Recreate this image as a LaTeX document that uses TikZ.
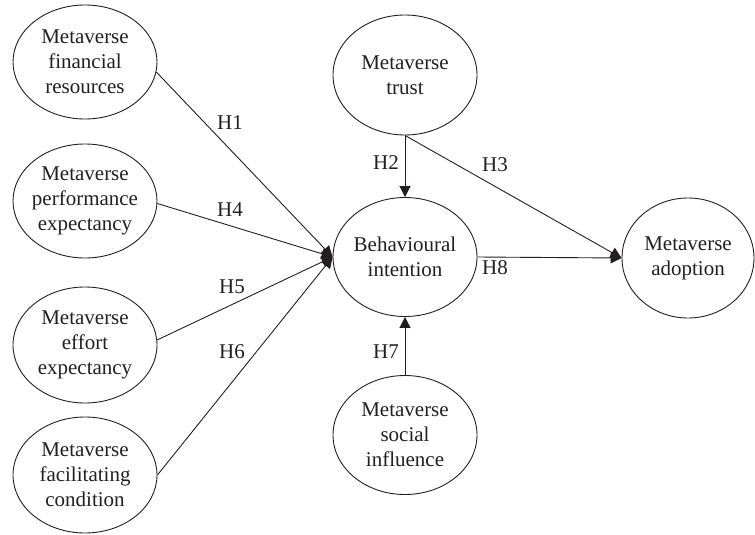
\documentclass[tikz,border=0pt]{standalone}
\usepackage{fontspec}
\setmainfont{Liberation Serif}
\usetikzlibrary{shapes.geometric,arrows.meta}
\definecolor{ink}{RGB}{35,31,32}
\begin{document}
\begin{tikzpicture}[x=1pt,y=-1pt,
  construct/.style={ellipse,draw=ink,line width=0.9pt,minimum width=144pt,minimum height=116pt,
    inner xsep=-4pt,inner ysep=0pt,align=center,font=\fontsize{21}{25}\selectfont,text=ink},
  link/.style={draw=ink,line width=0.9pt,-{Triangle[length=11pt,width=11pt]}},
  hyp/.style={font=\fontsize{21}{25}\selectfont,text=ink,inner sep=0pt}]
\useasboundingbox (0,0) rectangle (755,535);
% constructs
\node[construct,minimum height=114pt] (fin) at (85,62) {Metaverse\\financial\\resources};
\node[construct,minimum height=114pt] (perf) at (85,201) {Metaverse\\performance\\expectancy};
\node[construct] (eff) at (85,345) {Metaverse\\effort\\expectancy};
\node[construct] (fac) at (85,475) {Metaverse\\facilitating\\condition};
\node[construct,minimum height=120pt] (trust) at (405,75) {Metaverse\\trust};
\node[construct,minimum height=119pt] (beh) at (405,257) {Behavioural\\intention};
\node[construct,minimum height=119pt] (soc) at (405,435) {Metaverse\\social\\influence};
\node[construct,minimum width=132pt,minimum height=120pt] (adopt) at (688,258) {Metaverse\\adoption};
% connectors
\draw[link] (fin.-8) -- (beh.west);
\draw[link] (perf.-2) -- (beh.west);
\draw[link] (eff.4) -- (beh.west);
\draw[link] (fac.east) -- (beh.west);
\draw[link] (trust.south) -- (beh.north);
\draw[link] (trust.south) -- (adopt.west);
\draw[link] (soc.north) -- (beh.south);
\draw[link] (beh.east) -- (adopt.west);
% hypothesis labels
\node[hyp] (h1) at (230,123) {H1};
\node[hyp] (h4) at (230,210) {H4};
\node[hyp] (h5) at (232,287) {H5};
\node[hyp] (h6) at (232,352) {H6};
\node[hyp] (h2) at (386,163) {H2};
\node[hyp] (h3) at (495,165) {H3};
\node[hyp] (h8) at (495,268) {H8};
\node[hyp] (h7) at (386,352) {H7};
\end{tikzpicture}
\end{document}
